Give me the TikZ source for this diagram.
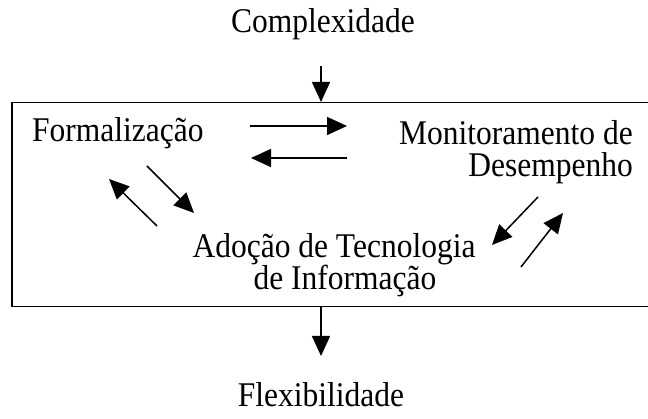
\documentclass[tikz,border=0pt]{standalone}
\usepackage{fontspec}
\setmainfont{Liberation Serif}
\usetikzlibrary{arrows.meta}
\newcommand{\tall}[1]{\scalebox{1}[1.1]{#1}}
\begin{document}
\begin{tikzpicture}[x=1pt,y=-1pt,
  lbl/.style={font=\fontsize{31.5}{36}\selectfont, inner sep=0pt, anchor=base},
  arr/.style={line width=1.5pt, -{Triangle[length=20pt,width=18pt]}}]
\useasboundingbox (0,0) rectangle (648,419);
\node[draw, line width=1.5pt, minimum width=640pt, minimum height=204pt, inner sep=0pt, anchor=north west] (box) at (11,102) {};
\node[lbl] (cx) at (323,33) {\tall{Complexidade}};
\node[lbl] (fx) at (321,407) {\tall{Flexibilidade}};
\node[lbl, anchor=base west] (fo) at (32,142) {\tall{Formalização}};
\node[lbl, anchor=base east] (mo1) at (633,145) {\tall{Monitoramento de}};
\node[lbl, anchor=base east] (mo2) at (633,177) {\tall{Desempenho}};
\node[lbl] (ad1) at (334,258) {\tall{Adoção de Tecnologia}};
\node[lbl] (ad2) at (345,290) {\tall{de Informação}};
\coordinate (c1) at (321,66);
\coordinate (f1) at (321,356);
\draw[arr] (c1) -- (box.north -| c1);
\draw[arr] (box.south -| f1) -- (f1);
\coordinate (r1) at (250,126); \coordinate (r2) at (347,126);
\coordinate (l1) at (347,158); \coordinate (l2) at (251,158);
\coordinate (d1) at (147,166); \coordinate (d2) at (194,213);
\coordinate (u1) at (157,226); \coordinate (u2) at (109,179);
\coordinate (e1) at (538,197); \coordinate (e2) at (492,245);
\coordinate (g1) at (521,267); \coordinate (g2) at (563,213);
\draw[arr] (r1) -- (r2);
\draw[arr] (l1) -- (l2);
\draw[arr] (d1) -- (d2);
\draw[arr] (u1) -- (u2);
\draw[arr] (e1) -- (e2);
\draw[arr] (g1) -- (g2);
\end{tikzpicture}
\end{document}
